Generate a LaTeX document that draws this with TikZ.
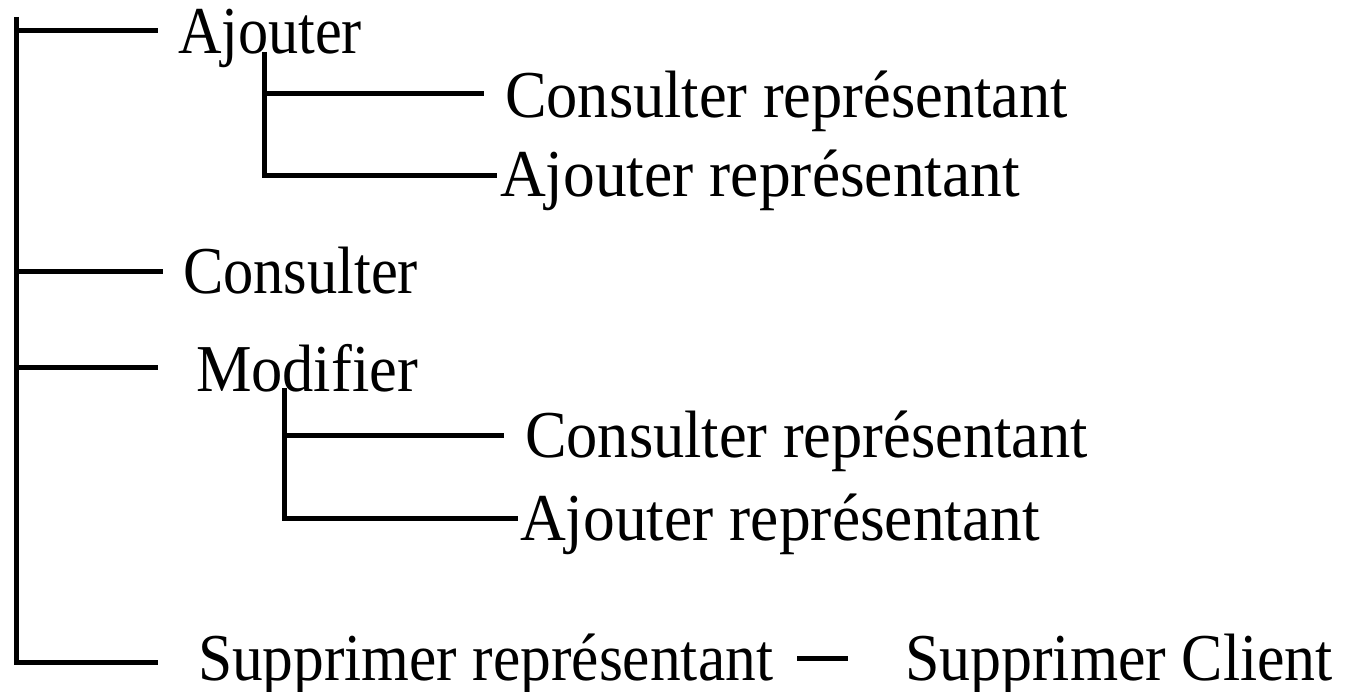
\documentclass[tikz,border=0pt]{standalone}
\usepackage{fontspec}
\setmainfont{Liberation Serif}
\usepackage{graphicx}
% set a label at a given width, keeping its natural height
\newcommand\fitw[2]{\resizebox{#1}{\height}{#2}}
\begin{document}
\begin{tikzpicture}[x=1pt,y=-1pt,
  treeline/.style={line width=5pt,line cap=butt},
  item/.style={anchor=base west,inner sep=0pt,outer sep=0pt,
    font=\fontsize{67}{71}\selectfont}]
\useasboundingbox (0,0) rectangle (1358,692);

% labels
\node[item] (ajout)  at (178,54)  {\fitw{184pt}{Ajouter}};
\node[item] (consu)  at (183,294) {\fitw{235pt}{Consulter}};
\node[item] (modif)  at (196,392) {\fitw{222pt}{Modifier}};
\node[item] (cr1)    at (505,118) {\fitw{563pt}{Consulter représentant}};
\node[item] (ar1)    at (500,197) {\fitw{520pt}{Ajouter représentant}};
\node[item] (cr2)    at (525,457) {\fitw{563pt}{Consulter représentant}};
\node[item] (ar2)    at (520,540) {\fitw{520pt}{Ajouter représentant}};
\node[item] (suprep) at (198,680) {\fitw{575pt}{Supprimer représentant}};
\node[item] (supcli) at (905,680) {\fitw{428pt}{Supprimer Client}};

% junctions and branch ends
\coordinate (spinetop) at (16,17);
\coordinate (eajout) at (158,31);
\coordinate (econsu) at (163,272);
\coordinate (emodif) at (158,368);
\coordinate (esupp)  at (158,662);
\coordinate (s1top) at (264,52);
\coordinate (ecr1)  at (484,94);
\coordinate (ear1)  at (497,176);
\coordinate (s2top) at (284,388);
\coordinate (ecr2)  at (504,436);
\coordinate (ear2)  at (518,518);
\coordinate (dashA) at (797,658);
\coordinate (dashB) at (848,658);

% main spine
\draw[treeline] (spinetop) |- (esupp);
\draw[treeline] (14,31) -- (eajout);
\draw[treeline] (spinetop |- econsu) -- (econsu);
\draw[treeline] (spinetop |- emodif) -- (emodif);

% sub-tree under Ajouter
\draw[treeline] (s1top) |- (ear1);
\draw[treeline] (s1top |- ecr1) -- (ecr1);

% sub-tree under Modifier
\draw[treeline] (s2top) |- (ear2);
\draw[treeline] (s2top |- ecr2) -- (ecr2);

% link between the two deletions
\draw[treeline] (dashA) -- (dashB);
\end{tikzpicture}
\end{document}
